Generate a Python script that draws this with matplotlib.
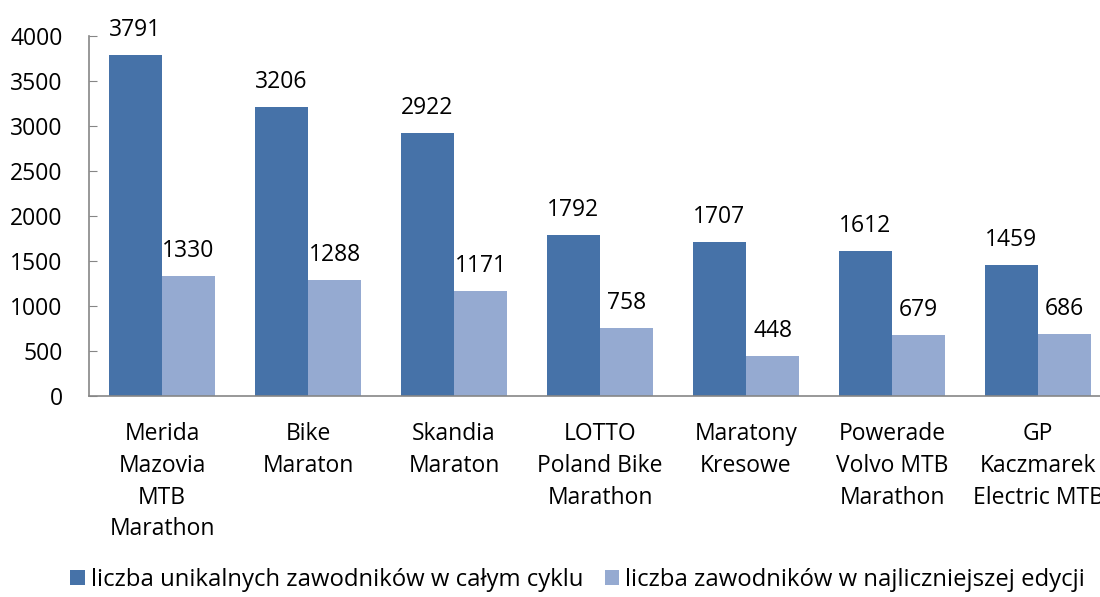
import matplotlib.pyplot as plt
import numpy as np

# ── Data ──────────────────────────────────────────────
categories = ["Merida\nMazovia\nMTB\nMarathon", "Bike\nMaraton", "Skandia\nMaraton",
              "LOTTO\nPoland Bike\nMarathon", "Maratony\nKresowe",
              "Powerade\nVolvo MTB\nMarathon", "GP\nKaczmarek\nElectric MTB"]
unique_riders = [3791, 3206, 2922, 1792, 1707, 1612, 1459]
top_edition = [1330, 1288, 1171, 758, 448, 679, 686]
series_names = ["liczba unikalnych zawodników w całym cyklu",
                "liczba zawodników w najliczniejszej edycji"]
yticks = [0, 500, 1000, 1500, 2000, 2500, 3000, 3500, 4000]

# ── Style ─────────────────────────────────────────────
plt.rcParams['font.family'] = ['Open Sans', 'DejaVu Sans']
FS = 16.5
c_dark, c_light = '#4672A8', '#95AAD1'
axis_col = '#868686'

fig = plt.figure(figsize=(11, 5.97), dpi=100)
ax = fig.add_axes([89 / 1100, 1 - 396 / 597, 1022 / 1100, 360 / 597])

x = np.arange(len(categories))
w = 1 / 2.75
b1 = ax.bar(x - w / 2, unique_riders, w, color=c_dark, label=series_names[0])
b2 = ax.bar(x + w / 2, top_edition, w, color=c_light, label=series_names[1])

for bars, vals in ((b1, unique_riders), (b2, top_edition)):
    for r, v in zip(bars, vals):
        ax.annotate(str(v), (r.get_x() + r.get_width() / 2, v),
                    xytext=(0, 18), textcoords='offset points',
                    ha='center', va='center', fontsize=FS, color='black')

ax.set_xlim(-0.5, len(categories) - 0.5)
ax.set_ylim(0, 4000)
ax.set_yticks(yticks)
ax.set_xticks(x)
ax.set_xticklabels(categories, fontsize=FS, linespacing=1.42)
ax.tick_params(axis='x', length=0, pad=19)
ax.tick_params(axis='y', direction='in', length=6, color=axis_col,
               labelsize=FS, pad=19)

for s in ('top', 'right'):
    ax.spines[s].set_visible(False)
for s in ('left', 'bottom'):
    ax.spines[s].set_color(axis_col)
    ax.spines[s].set_linewidth(1.2)

fig.legend(loc='center', bbox_to_anchor=(0.525, 0.028), ncol=2, frameon=False,
           fontsize=17.2, handlelength=0.6, handleheight=0.6,
           handletextpad=0.25, columnspacing=0.9)

fig.savefig('out.png', dpi=100)
